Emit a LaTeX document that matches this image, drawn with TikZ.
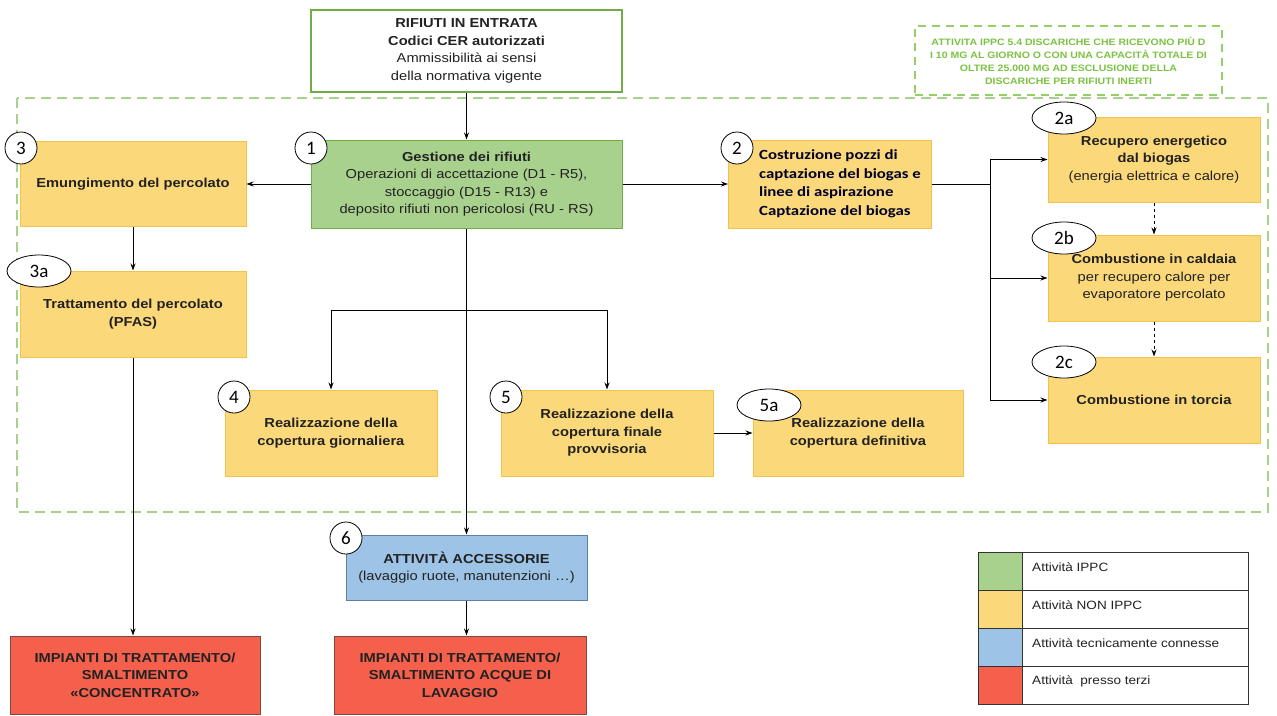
\documentclass[tikz,border=0pt]{standalone}
\usepackage{fontspec}
\setmainfont[FakeStretch=1.13]{Liberation Sans}
\newfontfamily\calib{Carlito}
\newfontfamily\calibw[FakeStretch=1.2]{Carlito}
\usetikzlibrary{arrows.meta,shapes.geometric}
\definecolor{gfill}{HTML}{A9D18E}
\definecolor{gline}{HTML}{70AD47}
\definecolor{yfill}{HTML}{FBD87A}
\definecolor{yline}{HTML}{F2C34B}
\definecolor{bfill}{HTML}{9DC3E6}
\definecolor{bline}{HTML}{5F7FA3}
\definecolor{rfill}{HTML}{F4604C}
\definecolor{rline}{HTML}{7A4A40}
\definecolor{dashg}{HTML}{A9D18E}
\definecolor{noteg}{HTML}{7CC242}
\definecolor{txt}{HTML}{222222}
\tikzset{
  box/.style={draw, line width=1pt, align=center, inner sep=2pt, text=txt,
    font=\fontsize{13}{17.5}\selectfont},
  gbox/.style={box, fill=gfill, draw=gline},
  ybox/.style={box, fill=yfill, draw=yline},
  bbox/.style={box, fill=bfill, draw=bline},
  rbox/.style={box, fill=rfill, draw=rline, font=\fontsize{13}{17.5}\selectfont\bfseries},
  badge/.style={circle, draw=black, line width=0.8pt, fill=white, minimum size=32pt, inner sep=0pt,
    font=\calib\fontsize{19}{19}\selectfont},
  ebadge/.style={ellipse, draw=black, line width=0.8pt, fill=white, minimum width=64pt, minimum height=32pt, inner sep=0pt,
    font=\calib\fontsize{19}{19}\selectfont},
  conn/.style={draw=black, line width=0.9pt, -{Stealth[length=7pt,width=5pt]}},
  seg/.style={draw=black, line width=0.9pt},
  dconn/.style={conn, dashed},
  swatch/.style={draw=black!80, line width=1pt, minimum width=44pt, minimum height=38pt, inner sep=0pt},
  cell/.style={draw=black!80, line width=1pt, minimum width=226pt, minimum height=38pt, inner sep=0pt},
  legtxt/.style={anchor=west, text=txt, font=\fontsize{12}{14}\selectfont, inner sep=0pt},
}
\begin{document}
\begin{tikzpicture}[x=1pt,y=-1pt]
\useasboundingbox[fill=white] (0,0) rectangle (1277,715);

% container and note
\draw[dashg, line width=2pt, dash pattern=on 10pt off 6pt] (17,98) rectangle (1268,512);
\node[draw=noteg!80, line width=1.5pt, dash pattern=on 8pt off 6pt, minimum width=307pt, minimum height=69pt,
  align=center, text=noteg, font=\fontsize{9.3}{13}\selectfont\bfseries] (note) at (1068.5,60.5)
  {ATTIVITA IPPC 5.4 DISCARICHE CHE RICEVONO PIÙ D\\I 10 MG AL GIORNO O CON UNA CAPACITÀ TOTALE DI\\OLTRE 25.000 MG AD ESCLUSIONE DELLA\\DISCARICHE PER RIFIUTI INERTI};

% boxes
\node[box, fill=white, draw=gline, line width=2pt, minimum width=311pt, minimum height=82pt] (in) at (466.5,51)
  {\textbf{RIFIUTI IN ENTRATA}\\\textbf{Codici CER autorizzati}\\Ammissibilità ai sensi\\della normativa vigente};
\node[gbox, minimum width=311pt, minimum height=88pt] (b1) at (466.5,184)
  {\textbf{Gestione dei rifiuti}\\Operazioni di accettazione (D1 - R5),\\stoccaggio (D15 - R13) e\\deposito rifiuti non pericolosi (RU - RS)};
\node[ybox, minimum width=226pt, minimum height=85pt] (b3) at (133,184) {\textbf{Emungimento del percolato}};
\node[ybox, minimum width=203pt, minimum height=88pt, align=left, font=\calibw\fontsize{14}{18.5}\selectfont\bfseries, text=black!85!blue] (b2) at (830,184)
  {\hspace*{20pt}\textbf{C}ostruzione pozzi di\\\hspace*{20pt}captazione del biogas e\\\hspace*{20pt}linee di aspirazione\\\hspace*{20pt}\textbf{C}aptazione del biogas};
\node[ybox, minimum width=212pt, minimum height=85pt] (b2a) at (1154,159.5)
  {\textbf{Recupero energetico}\\\textbf{dal biogas}\\(energia elettrica e calore)};
\node[ybox, minimum width=212pt, minimum height=86pt] (b2b) at (1154,278)
  {\textbf{Combustione in caldaia}\\per recupero calore per\\evaporatore percolato};
\node[ybox, minimum width=212pt, minimum height=86pt] (b2c) at (1154,400) {\textbf{Combustione in torcia}};
\node[ybox, minimum width=226pt, minimum height=86pt] (b3a) at (133,314) {\textbf{Trattamento del percolato}\\\textbf{(PFAS)}};
\node[ybox, minimum width=212pt, minimum height=86pt] (b4) at (331,433) {\textbf{Realizzazione della}\\\textbf{copertura giornaliera}};
\node[ybox, minimum width=212pt, minimum height=86pt] (b5) at (607,433) {\textbf{Realizzazione della}\\\textbf{copertura finale}\\\textbf{provvisoria}};
\node[ybox, minimum width=210pt, minimum height=86pt] (b5a) at (858,433) {\textbf{Realizzazione della}\\\textbf{copertura definitiva}};
\node[bbox, minimum width=241pt, minimum height=65pt] (b6) at (466.5,567.5)
  {\textbf{ATTIVITÀ ACCESSORIE}\\(lavaggio ruote, manutenzioni …)};
\node[rbox, minimum width=250pt, minimum height=78pt] (r1) at (135,675)
  {IMPIANTI DI TRATTAMENTO/\\SMALTIMENTO\\«CONCENTRATO»};
\node[rbox, minimum width=252pt, minimum height=78pt] (r2) at (460,675)
  {IMPIANTI DI TRATTAMENTO/\\SMALTIMENTO ACQUE DI\\LAVAGGIO};

% badges
\node[badge] (n1) at (311,148) {1};
\node[badge] (n3) at (21,148) {3};
\node[badge] (n2) at (737,148) {2};
\node[badge] (n4) at (234,397) {4};
\node[badge] (n5) at (506,397) {5};
\node[badge] (n6) at (346,538) {6};
\node[ebadge] (n2a) at (1064,118) {2a};
\node[ebadge] (n2b) at (1064,238) {2b};
\node[ebadge] (n2c) at (1064,362) {2c};
\node[ebadge] (n3a) at (39,271) {3a};
\node[ebadge] (n5a) at (769,405) {5a};

% connectors
\coordinate (bus) at (990,184);
\coordinate (split) at (466.5,310);
\draw[conn] (in.south) -- (b1.north);
\draw[conn] (b1.west) -- (b3.east |- b1.west);
\draw[conn] (b1.east) -- (b2.west);
\draw[seg] (b2.east) -- (bus);
\draw[conn] (bus) |- (b2a.west);
\draw[conn] (bus) |- (b2b.west);
\draw[conn] (bus) |- (b2c.west);
\draw[dconn] (b2a.south) -- (b2b.north);
\draw[dconn] (b2b.south) -- (b2c.north);
\draw[conn] (b3.south) -- (b3a.north);
\draw[conn] (b3a.south) -- (b3a.south |- r1.north);
\draw[conn] (b1.south) -- (b6.north);
\draw[conn] (split) -| (b4.north);
\draw[conn] (split) -| (b5.north);
\draw[conn] (b5.east) -- (b5a.west);
\draw[conn] (b6.south) -- (b6.south |- r2.north);

% legend
\node[swatch, fill=gfill] (s1) at (1000,571) {};
\node[swatch, fill=yfill] (s2) at (1000,609) {};
\node[swatch, fill=bfill] (s3) at (1000,647) {};
\node[swatch, fill=rfill] (s4) at (1000,685) {};
\node[cell] (c1) at (1135,571) {};
\node[cell] (c2) at (1135,609) {};
\node[cell] (c3) at (1135,647) {};
\node[cell] (c4) at (1135,685) {};
\node[legtxt] (l1) at (1032,567) {Attività IPPC};
\node[legtxt] (l2) at (1032,605) {Attività NON IPPC};
\node[legtxt] (l3) at (1032,643) {Attività tecnicamente connesse};
\node[legtxt] (l4) at (1032,681) {Attività\ \ presso terzi};
\end{tikzpicture}
\end{document}
